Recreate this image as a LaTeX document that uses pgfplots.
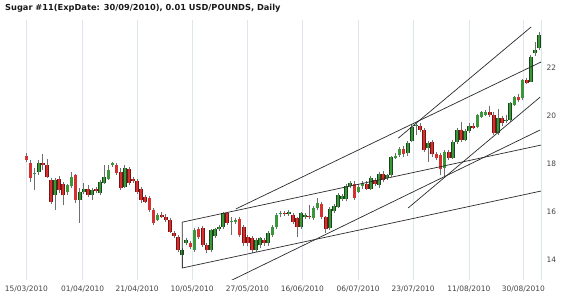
\documentclass[border=0pt]{standalone}
\usepackage{fontspec}
\setmainfont{DejaVu Sans}
\usepackage{pgfplots}
\usepackage{pgfplotstable}
\pgfplotsset{compat=1.18}
\definecolor{upfill}{HTML}{3A983A}
\definecolor{upedge}{HTML}{1C441C}
\definecolor{dnfill}{HTML}{D63030}
\definecolor{dnedge}{HTML}{761414}
\definecolor{wick}{HTML}{6E6E6E}
\definecolor{gridc}{HTML}{DCE6EC}
\definecolor{tickc}{HTML}{444444}
\definecolor{trend}{HTML}{2A2A2A}

\pgfplotstableread{
x o h l c
2 17.58 17.83 16.92 17.63
3 17.67 18.17 17.54 18.04
7 16.71 17.42 16.08 17.33
10 16.83 17.17 16.71 17.12
11 17.08 17.67 17.00 17.46
13 16.50 16.99 15.55 16.85
14 16.83 17.21 16.75 16.96
16 16.71 17.00 16.50 16.92
18 16.79 17.33 16.71 17.25
19 17.21 17.96 17.16 17.46
20 17.37 17.96 17.33 17.75
21 17.96 18.08 17.88 18.04
24 17.05 17.96 16.99 17.83
32 15.67 15.96 15.62 15.88
38 14.21 14.50 13.65 14.42
39 14.71 14.92 14.62 14.83
41 14.42 15.33 14.33 15.25
45 14.42 15.30 14.35 15.25
46 15.00 15.35 14.90 15.29
47 15.30 15.45 15.20 15.36
48 15.38 16.00 15.30 15.94
50 15.58 15.80 15.05 15.62
51 15.60 15.75 15.50 15.65
56 14.42 14.90 14.35 14.83
57 14.63 14.98 14.50 14.90
59 14.70 15.20 14.60 15.13
60 15.04 15.45 14.95 15.39
61 15.39 15.95 15.30 15.88
62 15.92 16.05 15.80 15.97
64 15.93 16.10 15.85 16.00
67 15.39 16.00 15.30 15.96
68 15.80 15.95 15.70 15.88
70 15.75 16.25 15.65 16.17
71 16.17 16.57 16.10 16.39
74 15.32 16.20 15.25 16.13
75 16.04 16.35 15.95 16.25
76 16.22 16.80 16.15 16.71
77 16.54 16.75 16.45 16.67
78 16.54 17.15 16.45 17.08
79 17.10 17.30 17.00 17.21
81 16.85 17.15 16.80 17.05
82 17.08 17.30 16.95 17.21
84 16.98 17.50 16.90 17.42
86 17.13 17.65 17.00 17.60
88 17.42 17.60 17.35 17.54
89 17.54 18.35 17.45 18.30
90 18.27 18.45 18.20 18.35
91 18.38 18.70 18.30 18.62
93 18.44 18.95 18.35 18.88
94 18.96 19.65 18.90 19.55
95 19.58 19.70 19.20 19.62
98 18.65 18.95 18.10 18.86
102 17.83 18.60 17.50 18.50
104 18.25 19.00 18.20 18.93
105 18.92 19.50 18.85 19.42
107 19.00 19.45 18.95 19.38
108 19.38 19.70 19.30 19.60
110 19.55 20.10 19.50 20.04
111 19.96 20.20 19.90 20.15
112 20.04 20.25 20.00 20.17
115 19.28 20.30 19.20 19.90
117 19.80 20.05 19.70 19.85
118 19.83 20.60 19.75 20.53
119 20.46 20.85 20.40 20.80
121 20.74 21.55 20.65 21.50
123 21.43 22.55 21.40 22.47
124 22.61 23.10 22.50 22.75
125 22.82 23.50 22.75 23.38
}\up

\pgfplotstableread{
x o h l c
0 18.35 18.46 18.10 18.17
1 18.04 18.17 17.26 17.42
4 18.04 18.42 17.75 17.96
5 17.96 18.21 17.42 17.47
6 17.33 17.42 16.33 16.43
8 17.37 17.50 16.79 16.92
9 17.17 17.25 16.29 16.71
12 17.54 17.58 16.38 16.50
15 16.96 17.12 16.62 16.71
17 16.96 17.05 16.79 16.88
22 17.96 18.05 17.54 17.61
23 17.68 17.83 16.92 16.99
25 17.79 17.88 17.12 17.21
26 17.37 17.46 17.21 17.29
27 17.30 17.37 16.75 16.85
28 16.96 17.04 16.38 16.50
29 16.63 16.71 16.38 16.43
30 16.58 16.67 16.00 16.08
31 16.08 16.17 15.46 15.54
33 15.88 16.00 15.75 15.80
34 15.80 15.92 15.58 15.67
35 15.67 15.75 15.12 15.18
36 15.13 15.21 14.92 15.00
37 14.97 15.04 14.33 14.42
40 14.71 14.79 14.46 14.54
42 15.29 15.37 14.88 14.96
43 15.33 15.40 14.55 14.63
44 14.63 14.70 14.30 14.42
49 15.94 16.00 15.45 15.55
52 15.71 15.80 14.95 15.04
53 15.39 15.45 14.60 14.70
54 14.97 15.05 14.60 14.70
55 14.92 15.00 14.30 14.42
58 14.83 14.90 14.60 14.70
63 15.95 16.05 15.85 15.92
65 15.88 15.95 15.50 15.60
66 15.75 15.80 14.97 15.39
69 15.82 16.30 15.70 15.78
72 16.33 16.40 15.70 15.80
73 15.79 15.85 15.12 15.29
80 17.17 17.30 16.50 16.60
83 17.17 17.30 16.90 16.98
85 17.33 17.40 17.10 17.17
87 17.60 17.70 17.25 17.33
92 18.62 18.75 18.30 18.40
96 19.60 19.70 19.35 19.42
97 19.42 19.50 18.50 18.58
99 18.90 19.00 18.30 18.40
100 18.40 18.50 18.15 18.25
101 18.38 18.45 17.55 17.80
103 18.50 18.60 18.15 18.25
106 19.42 19.76 18.90 19.00
109 19.60 19.70 19.45 19.50
113 20.17 20.40 19.95 20.04
114 20.04 20.15 19.20 19.28
116 19.90 20.00 19.60 19.70
120 20.80 20.90 20.60 20.65
122 21.50 21.60 21.35 21.39
}\down

\begin{document}
\begin{tikzpicture}
\useasboundingbox (0,0) rectangle (570bp,298bp);
\begin{axis}[
  at={(3bp,18bp)}, anchor=south west,
  scale only axis, width=538bp, height=260bp,
  xmin=-5.7, xmax=125.5, ymin=13.17, ymax=24.0,
  axis line style={draw=none},
  xtick={0,13.7,27.0,40.4,53.9,67.3,80.9,94.3,107.9,121.2},
  xticklabels={15/03/2010,01/04/2010,21/04/2010,10/05/2010,27/05/2010,16/06/2010,06/07/2010,23/07/2010,11/08/2010,30/08/2010},
  extra x ticks={125.5}, extra x tick labels={},
  extra x tick style={grid=major},
  ytick={14,16,18,20,22},
  yticklabel pos=right,
  tick style={draw=none},
  xmajorgrids, grid style={draw=gridc, line width=0.6bp},
  ticklabel style={font=\fontsize{7.5}{9}\selectfont, text=tickc},
  xticklabel style={yshift=-2.5bp},
  yticklabel style={xshift=2bp},
  /pgf/number format/assume math mode=true,
  candle/.style={draw=none, mark=none, forget plot, error bars/.cd, y dir=plus, y explicit, error mark=none},
]
% wicks
\addplot[candle, error bar style={draw=wick, line width=0.7bp}]
  table[x=x, y=l, y error plus expr=\thisrow{h}-\thisrow{l}] {\up};
\addplot[candle, error bar style={draw=wick, line width=0.7bp}]
  table[x=x, y=l, y error plus expr=\thisrow{h}-\thisrow{l}] {\down};
% up bodies
\addplot[candle, error bar style={draw=upedge, line width=3.7bp}]
  table[x=x, y=o, y error plus expr=\thisrow{c}-\thisrow{o}] {\up};
\addplot[candle, error bar style={draw=upfill, line width=2.3bp}]
  table[x=x, y=o, y error plus expr=\thisrow{c}-\thisrow{o}] {\up};
% down bodies
\addplot[candle, error bar style={draw=dnedge, line width=3.7bp}]
  table[x=x, y=c, y error plus expr=\thisrow{o}-\thisrow{c}] {\down};
\addplot[candle, error bar style={draw=dnfill, line width=2.3bp}]
  table[x=x, y=c, y error plus expr=\thisrow{o}-\thisrow{c}] {\down};
% trend lines
\addplot[trend, line width=0.7bp, mark=none] coordinates {(90.7,19.08) (123.1,23.71)};
\addplot[trend, line width=0.7bp, mark=none] coordinates {(51.1,16.13) (125.5,22.25)};
\addplot[trend, line width=0.7bp, mark=none] coordinates {(93.1,16.17) (125.3,20.79)};
\addplot[trend, line width=0.7bp, mark=none] coordinates {(49.7,13.13) (125.3,19.42)};
\addplot[trend, line width=0.7bp, mark=none] coordinates {(125.5,18.79) (38,15.58) (38,13.67) (125.5,16.875)};
\end{axis}
\node[anchor=west, inner sep=0pt, text=black!90, font=\bfseries\fontsize{8.3}{10}\selectfont] at (5bp,290bp) {Sugar \#11(ExpDate: 30/09/2010), 0.01 USD/POUNDS, Daily};
\end{tikzpicture}
\end{document}
